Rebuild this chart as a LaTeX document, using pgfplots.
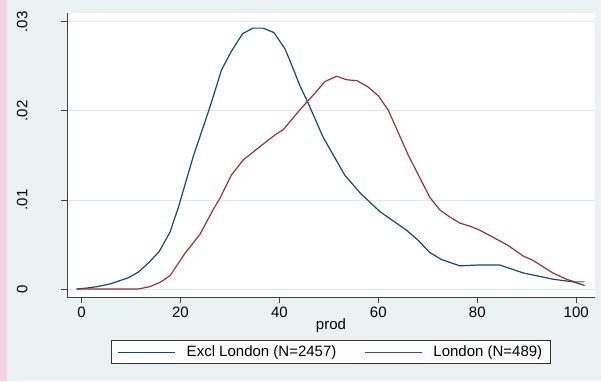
\documentclass[border=0pt]{standalone}
\usepackage{pgfplots}
\pgfplotsset{compat=1.18}
\usepackage{fontspec}
\setmainfont{Liberation Sans}
\definecolor{bgc}{RGB}{234,242,243}
\definecolor{pinkc}{RGB}{242,212,228}
\definecolor{navyc}{RGB}{26,71,111}
\definecolor{maroonc}{RGB}{144,53,59}
\definecolor{gridc}{RGB}{222,232,235}
\begin{document}
\begin{tikzpicture}[x=1pt,y=1pt]
\fill[bgc] (0,0) rectangle (601,381);
\fill[pinkc] (0,0) rectangle (7,381);
\fill[white] (67,84) rectangle (595,368);
\begin{axis}[
  at={(67pt,84pt)}, anchor=south west,
  scale only axis, width=528pt, height=284pt,
  xmin=-2.93, xmax=103.8, ymin=-0.0009, ymax=0.031,
  axis x line*=bottom, axis y line*=left,
  axis line style={black!75, line width=0.9pt},
  tick align=outside, major tick length=6pt,
  tick style={black!75, line width=0.9pt},
  xtick={0,20,40,60,80,100},
  ytick={0,0.01,0.02,0.03},
  yticklabels={\rotatebox{90}{0},\rotatebox{90}{.01},\rotatebox{90}{.02},\rotatebox{90}{.03}},
  scaled y ticks=false,
  ymajorgrids, grid style={gridc, line width=0.9pt},
  font=\fontsize{15}{17}\selectfont,
  /pgf/number format/assume math mode=true,
  yticklabel style={anchor=east, xshift=-30pt},
  xlabel={prod},
  xlabel style={at={(axis description cs:0.5,-0.1144)}, anchor=base},
  legend columns=2,
  legend style={at={(axis description cs:0.5,-0.1514)}, anchor=north,
    draw=black!80, fill=white, line width=0.8pt, inner xsep=6pt, inner ysep=3.5pt,
    font=\fontsize{15}{17}\selectfont,
    /tikz/every odd column/.append style={column sep=9pt},
    /tikz/every even column/.append style={column sep=26pt}},
]
\addplot[color=navyc, line width=1.2pt,
  legend image code/.code={\draw[navyc, line width=1pt] (0pt,0pt) -- (57pt,0pt);}] coordinates {
(-1,0) (1,0.0001) (3.1,0.00026) (6,0.0006) (9.5,0.00127) (11.5,0.0019) (13.5,0.0029) (15.7,0.0042) (17.9,0.0064) (19.6,0.0092) (22.6,0.0149) (26,0.0205) (28.3,0.0246) (30.3,0.0267) (32.6,0.0287) (34.7,0.0293) (36.7,0.0293) (38.9,0.0288) (41.1,0.0270) (42.1,0.0257) (44.1,0.0229) (45.8,0.0209) (48.8,0.0171) (53.2,0.0128) (56.3,0.0108) (60.3,0.0087) (65.7,0.0066) (68,0.0055) (70.4,0.0041) (72.8,0.0033) (76.5,0.0026) (80.5,0.0027) (84.5,0.0027) (89.3,0.0018) (95.3,0.0011) (99.4,0.0008) (101.7,0.0004)
};
\addlegendentry{Excl London (N=2457)}
\addplot[color=maroonc, line width=1.2pt,
  legend image code/.code={\draw[maroonc, line width=1pt] (0pt,0pt) -- (57pt,0pt);}] coordinates {
(-1,0) (11.5,0) (13.8,0.00026) (15.9,0.00075) (17.9,0.0015) (20.9,0.0040) (23.9,0.0061) (26.6,0.0089) (28,0.0102) (30.3,0.0128) (32.7,0.0145) (36.1,0.0160) (39.1,0.0173) (40.8,0.0179) (44.1,0.0201) (47.2,0.0220) (49.2,0.0233) (51.6,0.0239) (53.6,0.0235) (55.7,0.0234) (57.9,0.0227) (60,0.0217) (62,0.0201) (66,0.0151) (70.4,0.0103) (72.4,0.0089) (74.4,0.0081) (76.5,0.0074) (78.8,0.0070) (80.5,0.0066) (82.9,0.0059) (86.2,0.0049) (89.3,0.0037) (91.3,0.0032) (95.3,0.0018) (98,0.0011) (99.7,0.0008) (101.7,0.0008)
};
\addlegendentry{London (N=489)\hspace{3pt}}
\end{axis}
\end{tikzpicture}
\end{document}
